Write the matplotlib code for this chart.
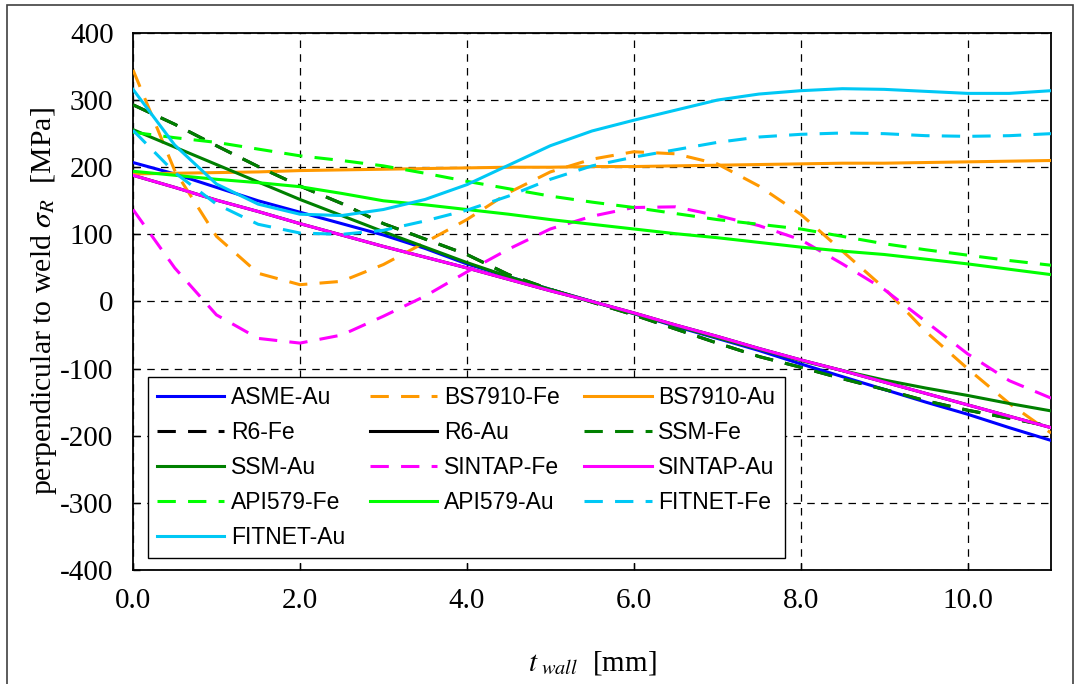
import matplotlib
matplotlib.use('Agg')
import matplotlib.pyplot as plt
from matplotlib.patches import Rectangle

plt.rcParams['font.family'] = ['Liberation Serif', 'DejaVu Serif']
plt.rcParams['mathtext.fontset'] = 'stix'
plt.rcParams['axes.unicode_minus'] = False

# wall position [mm]
t_wall = [0.0, 0.5, 1.0, 1.5, 2.0, 2.5, 3.0, 3.5, 4.0, 4.5, 5.0, 5.5,
          6.0, 6.5, 7.0, 7.5, 8.0, 8.5, 9.0, 9.5, 10.0, 10.5, 11.0]

# residual stress perpendicular to weld [MPa]
asme_au = [207, 190, 170, 150, 133, 116, 99, 79, 56, 37, 18, 0,
           -18, -37, -55, -73, -93, -112, -131, -150, -168, -188, -207]
bs7910_fe = [345, 195, 97, 42, 25, 30, 55, 88, 122, 162, 193, 212,
             223, 220, 205, 172, 130, 75, 20, -45, -100, -152, -196]
bs7910_au = [190, 191, 192, 193, 195, 196, 197, 198, 199, 200, 200, 201,
             201, 202, 203, 204, 205, 206, 206, 207, 208, 209, 210]
r6_fe = [293, 264, 232, 201, 172, 146, 116, 93, 70, 40, 18, -1,
         -20, -41, -62, -82, -98, -115, -131, -148, -162, -174, -186]
r6_au = [188, 170, 151, 134, 116, 99, 82, 66, 50, 33, 16, 0,
         -17, -35, -52, -70, -87, -103, -120, -137, -154, -171, -188]
ssm_fe = [293, 264, 232, 201, 172, 146, 116, 93, 70, 40, 18, -1,
          -20, -41, -62, -82, -98, -115, -131, -148, -162, -174, -186]
ssm_au = [256, 230, 204, 178, 152, 128, 104, 81, 58, 37, 18, 0,
          -18, -36, -54, -71, -88, -103, -117, -129, -140, -152, -163]
sintap_fe = [137, 50, -20, -55, -62, -50, -22, 8, 44, 78, 108, 127,
             140, 141, 128, 113, 92, 56, 18, -30, -78, -118, -144]
sintap_au = [188, 170, 151, 134, 116, 99, 82, 66, 50, 33, 16, 0,
             -17, -35, -52, -70, -87, -103, -120, -137, -154, -171, -188]
api579_fe = [252, 244, 237, 227, 217, 210, 202, 191, 179, 168, 157, 148,
             140, 131, 122, 115, 108, 97, 86, 77, 69, 61, 54]
api579_au = [194, 188, 182, 177, 171, 161, 150, 144, 137, 130, 122, 115,
             108, 101, 95, 88, 81, 75, 70, 63, 56, 48, 40]
fitnet_fe = [255, 192, 145, 115, 102, 100, 106, 120, 136, 157, 182, 202,
             215, 226, 237, 245, 249, 251, 250, 247, 246, 247, 250]
fitnet_au = [316, 233, 175, 145, 130, 128, 137, 152, 174, 203, 232, 254,
             270, 285, 300, 309, 314, 317, 316, 313, 310, 310, 314]

series = [
    ('ASME-Au', asme_au, '#0000FF', '-', 3),
    ('BS7910-Fe', bs7910_fe, '#FF9900', '--', 3),
    ('BS7910-Au', bs7910_au, '#FF9900', '-', 3),
    ('R6-Fe', r6_fe, '#000000', '--', 1),
    ('R6-Au', r6_au, '#000000', '-', 1),
    ('SSM-Fe', ssm_fe, '#008000', '--', 3),
    ('SSM-Au', ssm_au, '#008000', '-', 3),
    ('SINTAP-Fe', sintap_fe, '#FF00FF', '--', 3),
    ('SINTAP-Au', sintap_au, '#FF00FF', '-', 3),
    ('API579-Fe', api579_fe, '#00FF00', '--', 3),
    ('API579-Au', api579_au, '#00FF00', '-', 3),
    ('FITNET-Fe', fitnet_fe, '#00C8F5', '--', 3),
    ('FITNET-Au', fitnet_au, '#00C8F5', '-', 3),
]

fig = plt.figure(figsize=(10.83, 6.84), dpi=100)
ax = fig.add_axes([0.1228, 0.1667, 0.8477, 0.7851])

handles = []
for name, vals, col, ls, z in series:
    if ls == '--':
        h, = ax.plot(t_wall, vals, color=col, lw=2.2, dashes=(6, 4),
                     label=name, zorder=z)
    else:
        h, = ax.plot(t_wall, vals, color=col, lw=2.2, label=name, zorder=z)
    handles.append(h)

ax.set_xlim(0, 11)
ax.set_ylim(-400, 400)
ax.set_xticks([0, 2, 4, 6, 8, 10])
ax.set_xticklabels(['0.0', '2.0', '4.0', '6.0', '8.0', '10.0'])
ax.set_yticks(range(-400, 401, 100))
ax.tick_params(direction='in', length=5, width=1, labelsize=21)
ax.tick_params(axis='x', pad=13)
ax.tick_params(axis='y', pad=14)
ax.grid(True, color='black', lw=0.9, linestyle=(0, (6, 5)))
for sp in ax.spines.values():
    sp.set_linewidth(1.3)

ax.set_xlabel(r'$t_{\ wall}$  [mm]', fontsize=21, labelpad=25)
ax.set_ylabel(r'perpendicular to weld $\sigma_R$  [MPa]', fontsize=21.5,
              labelpad=1)

# legend filled row by row like the original
order = [0, 3, 6, 9, 12, 1, 4, 7, 10, 2, 5, 8, 11]
leg = ax.legend([handles[i] for i in order],
                [series[i][0] for i in order],
                ncol=3, loc='lower left', bbox_to_anchor=(0.016, 0.022),
                borderaxespad=0, fancybox=False, framealpha=1,
                edgecolor='black', handlelength=2.95, handletextpad=0.3,
                columnspacing=1.05, labelspacing=0.52, borderpad=0.4,
                prop={'family': 'Liberation Sans', 'size': 16.5})
leg.get_frame().set_linewidth(1.0)
leg.set_zorder(10)

fig.patches.append(Rectangle((7 / 1083, -0.05), 1066 / 1083, 1.05 - 5 / 684,
                             transform=fig.transFigure, fill=False,
                             edgecolor='#404040', lw=1.2))

fig.savefig('out.png', dpi=100)
